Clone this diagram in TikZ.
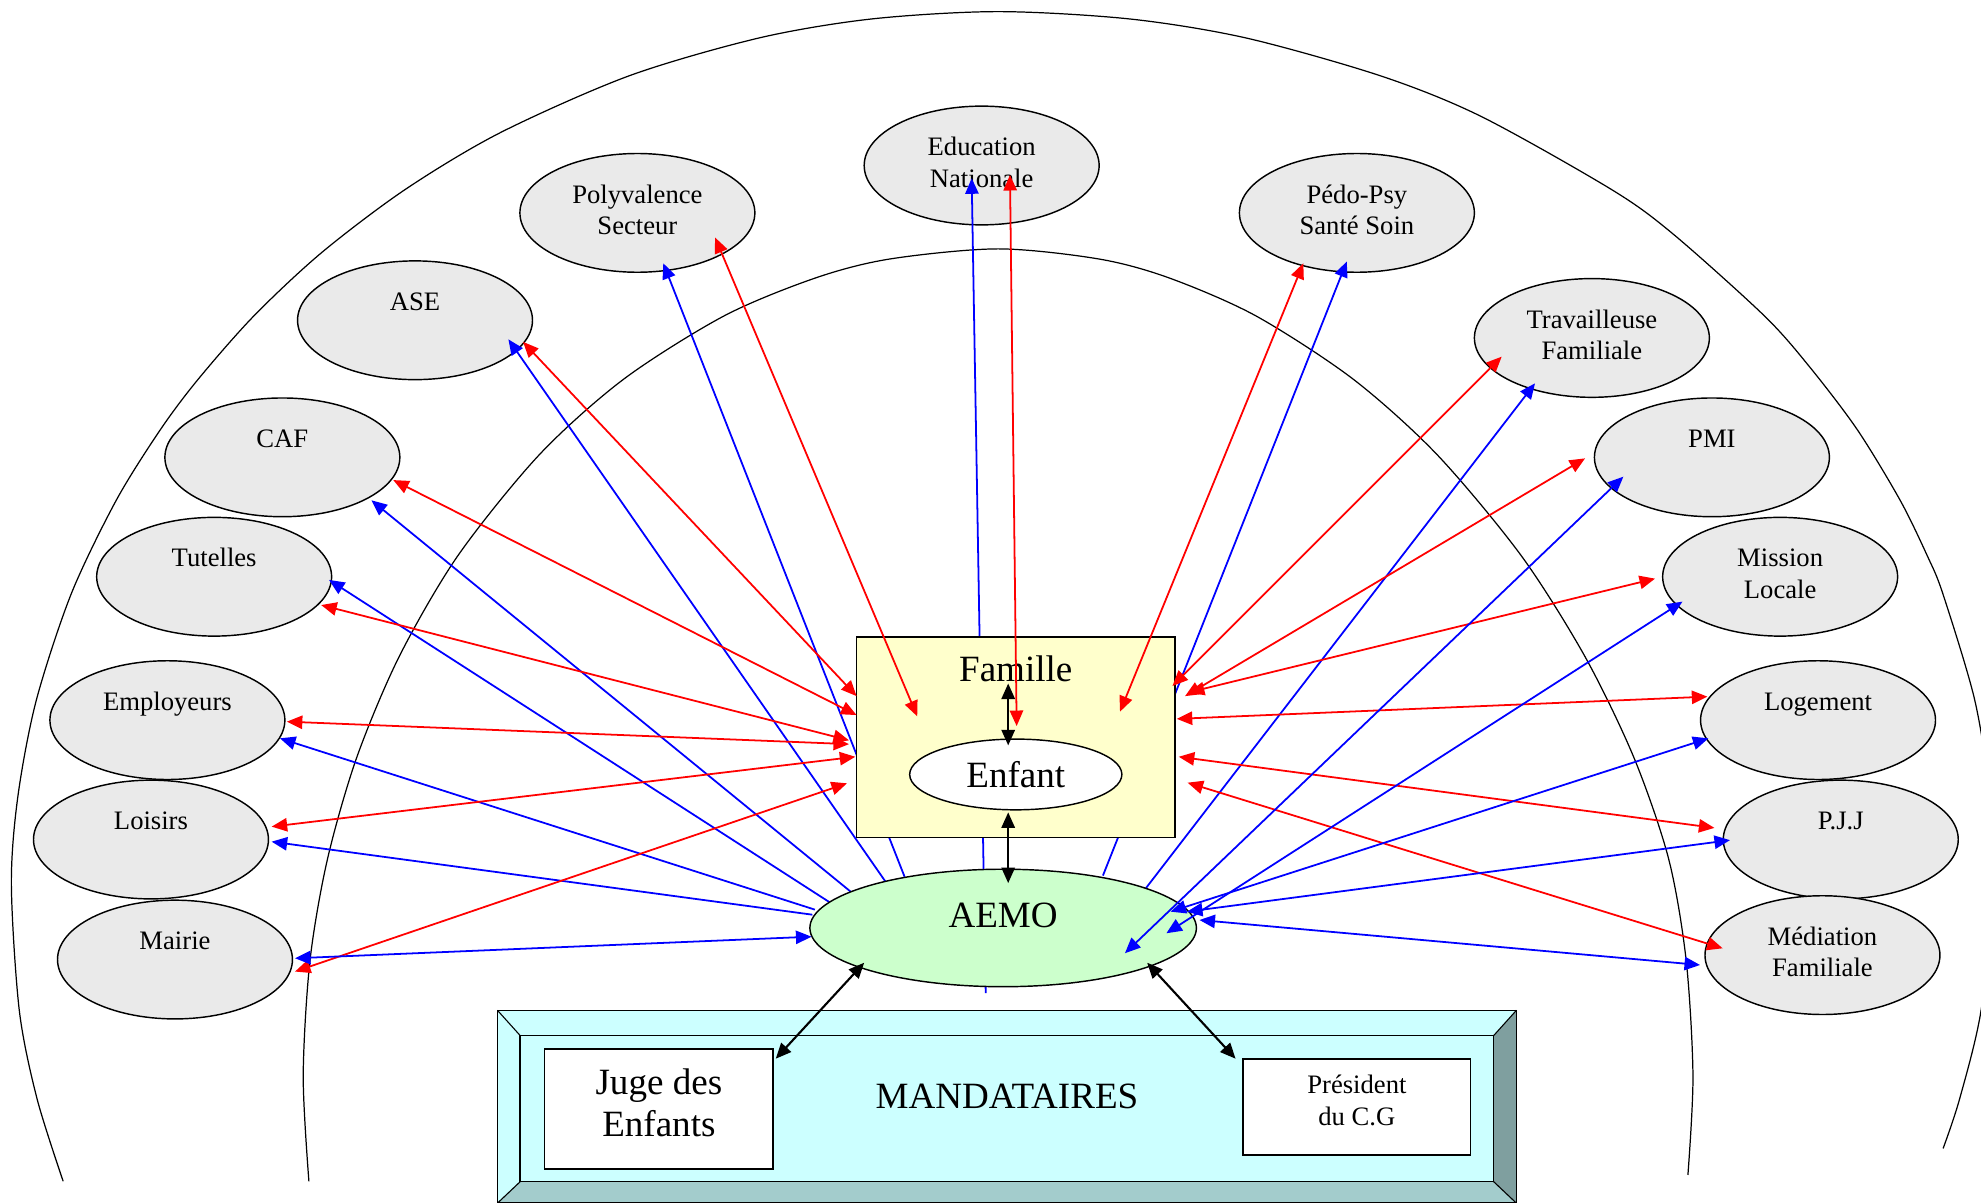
\documentclass[tikz,border=0pt]{standalone}
\usepackage{fontspec}
\setmainfont{Liberation Serif}
\usetikzlibrary{arrows.meta,shapes.geometric}
\pgfdeclarelayer{bg}
\pgfdeclarelayer{mid}
\pgfsetlayers{bg,mid,main}
\definecolor{ellgray}{HTML}{EAEAEA}
\definecolor{famyel}{HTML}{FFFFCC}
\definecolor{aemogreen}{HTML}{CCFFCC}
\definecolor{mandcyan}{HTML}{CCFFFF}
\definecolor{bevdark}{HTML}{7F9F9F}
\definecolor{bevmid}{HTML}{A3CCCC}
\begin{document}
\begin{tikzpicture}[x=0.02cm,y=-0.02cm,
  >={Triangle[length=7pt,width=6pt]},
  partner/.style={ellipse,draw,line width=0.65pt,fill=ellgray,minimum width=3.72cm,minimum height=1.88cm,inner sep=0pt},
  smalltxt/.style={font=\fontsize{12}{14.2}\selectfont,align=center,inner sep=0pt},
  bigtxt/.style={font=\fontsize{16.7}{18.8}\selectfont,align=center,inner sep=0pt},
  redlink/.style={red,line width=0.8pt},
  bluelink/.style={blue,line width=0.8pt},
  blacklink/.style={black,line width=0.95pt,<->},
  arcline/.style={line width=0.55pt},
  whitebox/.style={draw,line width=0.8pt,fill=white,inner sep=0pt}]

\useasboundingbox (0,0) rectangle (1568,952);

\begin{pgfonlayer}{bg}
% outer and inner arcs
\draw[arcline] plot[smooth] coordinates {(50,935) (29.4,870) (15.3,800) (9,700) (14.2,630) (28.8,554) (56.4,470) (92,396) (127,340) (157,300) (201,250) (254.5,200) (320.7,150) (396,105) (498,60) (601,30) (690,15) (790,9.2) (894,15) (986,30) (1092.6,60) (1172,92) (1275.5,150) (1324,185) (1396.5,250) (1432,290) (1470,340) (1504,396) (1525.5,440) (1537.8,470) (1563,554) (1575,630) (1578,700) (1568,800) (1551,870) (1538,909)};
\draw[arcline] plot[smooth] coordinates {(244.5,935) (240,851.6) (245.4,760) (259.2,680) (282.2,600) (315.8,520) (362.3,440) (426.8,360) (493.8,300) (573.2,250) (645.5,220) (704.3,205) (790,197) (869.8,205) (925.4,220) (994,250) (1070.9,300) (1137.6,360) (1204.2,440) (1254.7,520) (1293.4,600) (1320.8,680) (1334.6,760) (1340,851.6) (1336,930)};

% partner ellipses
\node[partner] (edu) at (777,131) {};
\node[smalltxt] (edu-t) at ([yshift=0.05cm]edu.center) {Education\\Nationale};
\node[partner] (poly) at (504.5,168.5) {};
\node[smalltxt] (poly-t) at ([yshift=0.05cm]poly.center) {Polyvalence\\Secteur};
\node[partner] (ase) at (328.5,253.5) {};
\node[smalltxt,anchor=base] (ase-t) at ([yshift=0.16cm]ase.center) {ASE};
\node[partner] (caf) at (223.5,362) {};
\node[smalltxt,anchor=base] (caf-t) at ([yshift=0.16cm]caf.center) {CAF};
\node[partner] (tut) at (169.5,456.5) {};
\node[smalltxt,anchor=base] (tut-t) at ([yshift=0.16cm]tut.center) {Tutelles};
\node[partner] (emp) at (132.5,570) {};
\node[smalltxt,anchor=base] (emp-t) at ([yshift=0.16cm]emp.center) {Employeurs};
\node[partner] (loi) at (119.5,664.5) {};
\node[smalltxt,anchor=base] (loi-t) at ([yshift=0.16cm]loi.center) {Loisirs};
\node[partner] (mai) at (138.5,759.5) {};
\node[smalltxt,anchor=base] (mai-t) at ([yshift=0.16cm]mai.center) {Mairie};
\node[partner] (pedo) at (1074,168.5) {};
\node[smalltxt] (pedo-t) at ([yshift=0.05cm]pedo.center) {Pédo-Psy\\Santé Soin};
\node[partner] (trav) at (1260,267.5) {};
\node[smalltxt] (trav-t) at ([yshift=0.05cm]trav.center) {Travailleuse\\Familiale};
\node[partner] (pmi) at (1355,362) {};
\node[smalltxt,anchor=base] (pmi-t) at ([yshift=0.16cm]pmi.center) {PMI};
\node[partner] (mis) at (1409,456.5) {};
\node[smalltxt] (mis-t) at ([yshift=0.05cm]mis.center) {Mission\\Locale};
\node[partner] (loge) at (1439,570) {};
\node[smalltxt,anchor=base] (loge-t) at ([yshift=0.16cm]loge.center) {Logement};
\node[partner] (pjj) at (1457,664.5) {};
\node[smalltxt,anchor=base] (pjj-t) at ([yshift=0.16cm]pjj.center) {P.J.J};
\node[partner] (med) at (1442.5,756) {};
\node[smalltxt] (med-t) at ([yshift=0.05cm]med.center) {Médiation\\Familiale};
\end{pgfonlayer}

% central shapes
\node[draw,line width=0.75pt,fill=famyel,minimum width=5.04cm,minimum height=3.18cm,inner sep=0pt] (fam) at (804,583.5) {};
\node[bigtxt,anchor=base] (fam-t) at ([yshift=-0.726cm]fam.north) {Famille};
\node[ellipse,draw,line width=0.65pt,fill=white,minimum width=3.36cm,minimum height=1.12cm,bigtxt] (enf) at (804,613) {Enfant};
\node[ellipse,draw,line width=0.65pt,fill=aemogreen,minimum width=6.12cm,minimum height=1.86cm,inner sep=0pt] (aemo) at (794,734.5) {};
\node[bigtxt,anchor=base] (aemo-t) at (aemo.center) {AEMO};

% mandataires bevel box
\node[minimum width=16.12cm,minimum height=3.04cm,inner sep=0pt] (mand) at (797,876) {};
\node[minimum width=15.4cm,minimum height=2.3cm,inner sep=0pt] (mandin) at (797,877.5) {};
\fill[mandcyan] (mand.north west) -- (mand.north east) -- (mandin.north east) -- (mandin.north west) -- cycle;
\fill[mandcyan] (mand.north west) -- (mandin.north west) -- (mandin.south west) -- (mand.south west) -- cycle;
\fill[bevdark] (mand.north east) -- (mand.south east) -- (mandin.south east) -- (mandin.north east) -- cycle;
\fill[bevmid] (mand.south west) -- (mandin.south west) -- (mandin.south east) -- (mand.south east) -- cycle;
\draw[line width=0.65pt] (mand.north west) rectangle (mand.south east);
\draw[line width=0.65pt,fill=mandcyan] (mandin.north west) rectangle (mandin.south east);
\draw[line width=0.5pt] (mand.north west) -- (mandin.north west) (mand.north east) -- (mandin.north east)
  (mand.south west) -- (mandin.south west) (mand.south east) -- (mandin.south east);
\node[bigtxt,anchor=base] (mand-t) at (mandin.center) {MANDATAIRES};
\node[whitebox,minimum width=3.62cm,minimum height=1.9cm] (juge) at (521.5,877.5) {};
\node[bigtxt] (juge-t) at ([yshift=0.09cm]juge.center) {Juge des\\Enfants};
\node[whitebox,minimum width=3.6cm,minimum height=1.52cm] (pres) at (1074,876) {};
\node[smalltxt] (pres-t) at ([yshift=0.1cm]pres.center) {Président\\du C.G};

% blue links passing under the central shapes
\begin{pgfonlayer}{mid}
\draw[bluelink,<-] ([shift={(20.5,39.9)}]poly.center) -- ([shift={(-78,-40.5)}]aemo.center);
\draw[bluelink,<-] ([shift={(73.9,15.1)}]ase.center) -- ([shift={(-93,-36.5)}]aemo.center);
\draw[bluelink,<-] ([shift={(70.5,34)}]caf.center) -- ([shift={(-120.4,-28.5)}]aemo.center);
\draw[bluelink,<-] ([shift={(90.9,2.5)}]tut.center) -- ([shift={(-137.6,-20.5)}]aemo.center);
\draw[bluelink,<-] ([shift={(89.1,14.4)}]emp.center) -- ([shift={(-149,-14.5)}]aemo.center);
\draw[bluelink,<-] ([shift={(95.5,1.7)}]loi.center) -- ([shift={(-151,-10.5)}]aemo.center);
\draw[bluelink,<-] ([shift={(-7.9,10.1)}]edu.center) -- ([shift={(-13.8,51.5)}]aemo.center);
\draw[bluelink,<-] ([shift={(-8,38.5)}]pedo.center) -- ([shift={(79,-41.5)}]aemo.center);
\draw[bluelink,<-] ([shift={(-45,35.9)}]trav.center) -- ([shift={(113,-31.5)}]aemo.center);
\end{pgfonlayer}

% black links
\draw[blacklink] ([shift={(-6,-42.5)}]fam.center) -- ([shift={(-6,-23)}]enf.center);
\draw[blacklink] ([shift={(-6,30)}]enf.center) -- ([shift={(4,-35.5)}]aemo.center);
\draw[blacklink] ([shift={(-110,27.5)}]aemo.center) -- ([shift={(92.5,-39.5)}]juge.center);
\draw[blacklink] ([shift={(114,27.5)}]aemo.center) -- ([shift={(-96,-38)}]pres.center);

% red links (partner <-> Famille)
\draw[redlink,<->] ([shift={(85.5,17.1)}]ase.center) -- ([shift={(-126,-32.5)}]fam.center);
\draw[redlink,<->] ([shift={(87.8,18)}]caf.center) -- ([shift={(-126,-17.5)}]fam.center);
\draw[redlink,<->] ([shift={(84.7,22.4)}]tut.center) -- ([shift={(-132,2.5)}]fam.center);
\draw[redlink,<->] ([shift={(94.5,1.2)}]emp.center) -- ([shift={(-132,5.5)}]fam.center);
\draw[redlink,<->] ([shift={(95.5,-10.2)}]loi.center) -- ([shift={(-127,15.5)}]fam.center);
\draw[redlink,<->] ([shift={(95,9.5)}]mai.center) -- ([shift={(-133.6,36.5)}]fam.center);
\draw[redlink,<->] ([shift={(61.5,19.5)}]poly.center) -- ([shift={(-78,-16.5)}]fam.center);
\draw[redlink,<->] ([shift={(22.4,7.5)}]edu.center) -- ([shift={(0.7,-8.8)}]fam.center);
\draw[redlink,<->] ([shift={(-42.4,39.9)}]pedo.center) -- ([shift={(82.5,-20.2)}]fam.center);
\draw[redlink,<->] ([shift={(-71.4,14.8)}]trav.center) -- ([shift={(124,-40.5)}]fam.center);
\draw[redlink,<->] ([shift={(-100.4,0.8)}]pmi.center) -- ([shift={(134,-32.5)}]fam.center);
\draw[redlink,<->] ([shift={(-99,1.5)}]mis.center) -- ([shift={(137,-35.5)}]fam.center);
\draw[redlink,<->] ([shift={(-87.6,-18.6)}]loge.center) -- ([shift={(127.4,-14.5)}]fam.center);
\draw[redlink,<->] ([shift={(-100,-9.2)}]pjj.center) -- ([shift={(129,15.5)}]fam.center);
\draw[redlink,<->] ([shift={(-79,-5.4)}]med.center) -- ([shift={(136,36)}]fam.center);

% blue links with heads on AEMO
\draw[bluelink,<->] ([shift={(95,-1)}]mai.center) -- ([shift={(-151.7,6.9)}]aemo.center);
\draw[bluelink,<->] ([shift={(-70.1,15.3)}]pmi.center) -- ([shift={(96.4,20)}]aemo.center);
\draw[bluelink,<->] ([shift={(-77.3,19.7)}]mis.center) -- ([shift={(129.2,4.2)}]aemo.center);
\draw[bluelink,<->] ([shift={(-86.8,14.4)}]loge.center) -- ([shift={(132.5,-12.9)}]aemo.center);
\draw[bluelink,<->] ([shift={(-87.7,0.5)}]pjj.center) -- ([shift={(145.5,-12.9)}]aemo.center);
\draw[bluelink,<->] ([shift={(-96.9,7.8)}]med.center) -- ([shift={(155.4,-6.3)}]aemo.center);
\end{tikzpicture}
\end{document}
